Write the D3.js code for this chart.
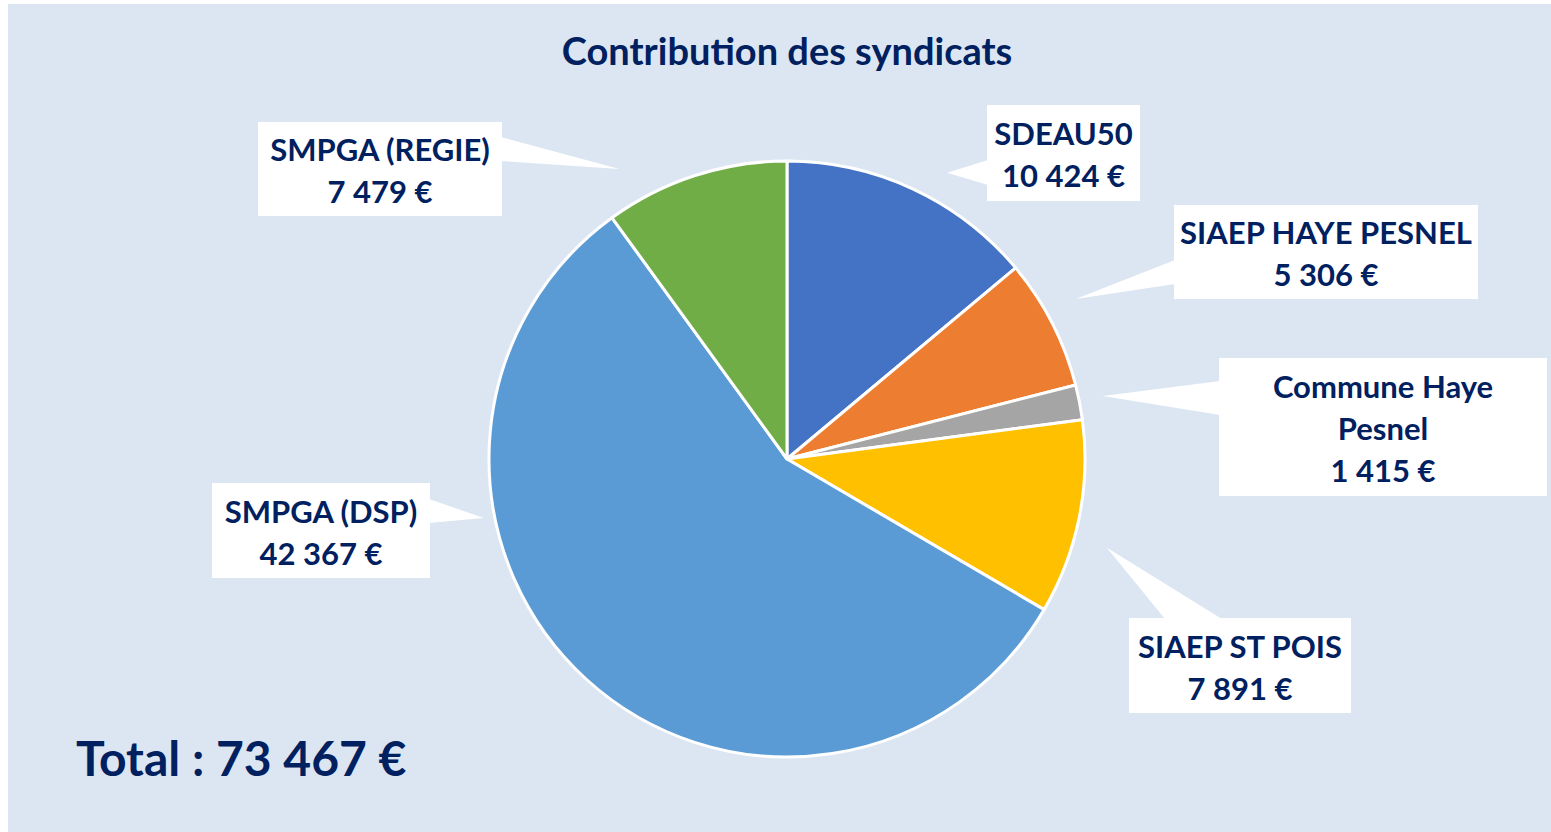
<!DOCTYPE html>
<html>
<head>
<meta charset="utf-8">
<script src="https://cdn.jsdelivr.net/npm/d3@7"></script>
<style>
  body { margin: 0; background: #fff; }
  svg text { font-family: Lato, "Open Sans", sans-serif; font-weight: 700; fill: #002060; }
</style>
</head>
<body>
<div id="chart"></div>
<script>
// Données
const categories = ['SDEAU50', 'SIAEP HAYE PESNEL', 'Commune Haye Pesnel', 'SIAEP ST POIS', 'SMPGA (DSP)', 'SMPGA (REGIE)'];
const values = [10424, 5306, 1415, 7891, 42367, 7479];
const colors = ['#4472C4', '#ED7D31', '#A5A5A5', '#FFC000', '#5B9BD5', '#70AD47'];
const title = 'Contribution des syndicats';
const totalLabel = 'Total : 73 467 €';

// Placement des étiquettes (boîte, côté de la flèche, angle de la pointe)
const labelLayout = [
  {x: 987,  y: 105, w: 153, h: 96,  side: 'left',  b0: 55, b1: 80, tipDeg: 29.2,  tipGap: 30, maxW: 300},
  {x: 1174, y: 205, w: 304, h: 94,  side: 'left',  b0: 55, b1: 79, tipDeg: 61,    tipGap: 32, maxW: 300},
  {x: 1219, y: 358, w: 328, h: 138, side: 'left',  b0: 23, b1: 57, tipDeg: 78.7,  tipGap: 24, maxW: 250},
  {x: 1129, y: 618, w: 222, h: 95,  side: 'top',   b0: 36, b1: 93, tipDeg: 105.5, tipGap: 34, maxW: 300},
  {x: 212,  y: 483, w: 218, h: 95,  side: 'right', b0: 16, b1: 40, tipDeg: 259,   tipGap: 11, maxW: 300},
  {x: 258,  y: 122, w: 244, h: 94,  side: 'right', b0: 15, b1: 39, tipDeg: 330,   tipGap: 37, maxW: 300}
];

const width = 1551, height = 832;
const cx = 787, cy = 459, radius = 298;

const fmt = v => d3.format(',')(v).replace(/,/g, ' ') + ' €';

const svg = d3.select('#chart')
    .append('svg')
    .attr('width', width)
    .attr('height', height);

// Fond
svg.append('rect')
    .attr('x', 8).attr('y', 4)
    .attr('width', width - 8).attr('height', height - 4)
    .attr('fill', '#DCE6F2');

// Titre
svg.append('text')
    .attr('x', cx).attr('y', 65)
    .attr('text-anchor', 'middle')
    .style('font-size', '38px')
    .text(title);

// Camembert
const pie = d3.pie().sort(null).value(d => d.value);
const arc = d3.arc().innerRadius(0).outerRadius(radius);
const data = categories.map((c, i) => ({name: c, value: values[i], color: colors[i]}));
const arcs = pie(data);

const g = svg.append('g').attr('transform', `translate(${cx},${cy})`);
g.selectAll('path.slice')
    .data(arcs)
    .enter()
    .append('path')
    .attr('class', 'slice')
    .attr('d', arc)
    .attr('fill', d => d.data.color)
    .attr('stroke', '#fff')
    .attr('stroke-width', 3)
    .attr('stroke-linejoin', 'round');

// Etiquettes
function wrap(text, maxW, size) {
    let tmp = svg.append('text').style('font-size', size + 'px');
    let words = text.split(' '), lines = [], cur = '';
    words.forEach(w => {
        let test = cur ? cur + ' ' + w : w;
        tmp.text(test);
        if (tmp.node().getComputedTextLength() > maxW && cur) {
            lines.push(cur);
            cur = w;
        } else {
            cur = test;
        }
    });
    lines.push(cur);
    tmp.remove();
    return lines;
}

const labelSize = 31, lineH = 42;
const labels = svg.append('g');

arcs.forEach((a, i) => {
    let L = labelLayout[i];
    let ang = L.tipDeg * Math.PI / 180;
    let tr = radius + L.tipGap;
    let tip = [cx + tr * Math.sin(ang), cy - tr * Math.cos(ang)];
    let p0, p1;
    if (L.side === 'left') { p0 = [L.x + 1, L.y + L.b0]; p1 = [L.x + 1, L.y + L.b1]; }
    else if (L.side === 'right') { p0 = [L.x + L.w - 1, L.y + L.b0]; p1 = [L.x + L.w - 1, L.y + L.b1]; }
    else { p0 = [L.x + L.b0, L.y + 1]; p1 = [L.x + L.b1, L.y + 1]; }

    labels.append('path')
        .attr('d', d3.line()([p0, tip, p1]) + 'Z')
        .attr('fill', '#fff');

    labels.append('rect')
        .attr('x', L.x).attr('y', L.y)
        .attr('width', L.w).attr('height', L.h)
        .attr('fill', '#fff');

    let lines = wrap(a.data.name, L.maxW, labelSize);
    lines.push(fmt(a.data.value));
    let n = lines.length;
    let t = labels.append('text')
        .attr('text-anchor', 'middle')
        .style('font-size', labelSize + 'px');
    lines.forEach((ln, j) => {
        t.append('tspan')
            .attr('x', L.x + L.w / 2)
            .attr('y', L.y + L.h / 2 + (j - (n - 1) / 2) * lineH + 13)
            .text(ln);
    });
});

// Total
svg.append('text')
    .attr('x', 76).attr('y', 776)
    .style('font-size', '48px')
    .text(totalLabel);
</script>
</body>
</html>
